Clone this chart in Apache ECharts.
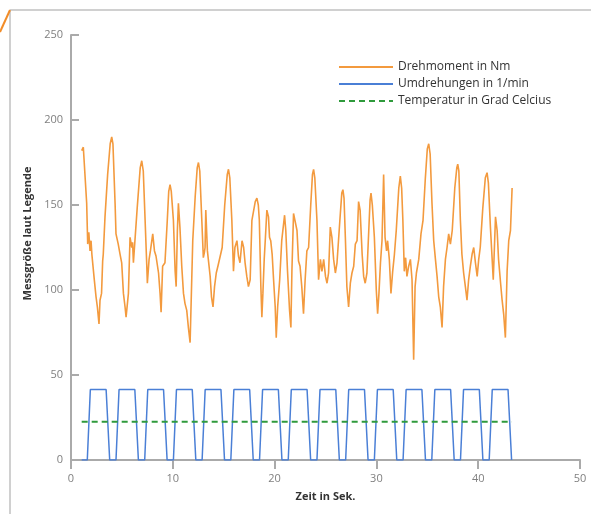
<!DOCTYPE html>
<html>
<head>
<meta charset="utf-8">
<script src="https://cdn.jsdelivr.net/npm/echarts@6/dist/echarts.min.js"></script>
<style>html,body{margin:0;padding:0;background:#fff;}#c{width:591px;height:514px;}</style>
</head>
<body>
<div id="c"></div>
<script>
// ---- data ----
const seriesNames = ['Drehmoment in Nm', 'Umdrehungen in 1/min', 'Temperatur in Grad Celcius'];
const xTicks = [0, 10, 20, 30, 40, 50];
const yTicks = [0, 50, 100, 150, 200, 250];

const torqueTime = [1.05,1.21,1.54,1.64,1.75,1.87,1.97,2.05,2.29,2.46,2.59,2.75,2.85,3.0,3.11,3.17,3.34,3.6,3.85,4.0,4.12,4.33,4.42,4.64,4.82,4.98,5.15,5.31,5.41,5.64,5.8,5.97,6.05,6.13,6.5,6.8,6.95,7.1,7.28,7.44,7.5,7.67,7.8,8.03,8.2,8.35,8.6,8.75,8.85,9.0,9.23,9.45,9.6,9.73,9.85,10.06,10.23,10.33,10.45,10.55,10.7,10.88,11.05,11.2,11.37,11.53,11.7,11.86,11.96,12.2,12.4,12.52,12.65,12.85,13.0,13.1,13.17,13.24,13.4,13.67,13.8,13.95,14.1,14.27,14.43,14.7,14.85,15.1,15.35,15.47,15.6,15.8,15.96,16.1,16.3,16.45,16.6,16.8,16.96,17.1,17.27,17.43,17.6,17.77,18.1,18.26,18.4,18.5,18.65,18.75,18.85,18.98,19.1,19.24,19.4,19.5,19.62,19.76,19.9,20.06,20.16,20.3,20.5,20.7,20.98,21.1,21.27,21.47,21.6,21.7,21.86,22.0,22.2,22.35,22.5,22.67,22.84,23.0,23.17,23.34,23.55,23.72,23.83,23.95,24.16,24.32,24.5,24.65,24.82,25.0,25.15,25.3,25.47,25.63,25.8,25.97,26.13,26.4,26.6,26.71,26.82,26.95,27.1,27.27,27.44,27.6,27.77,27.93,28.1,28.25,28.4,28.6,28.75,28.9,29.07,29.25,29.38,29.47,29.6,29.8,29.99,30.12,30.25,30.4,30.55,30.71,30.85,31.0,31.1,31.27,31.43,31.6,31.77,31.95,32.2,32.35,32.48,32.6,32.74,32.87,33.0,33.17,33.34,33.5,33.66,33.8,33.93,34.16,34.38,34.58,34.8,35.0,35.14,35.28,35.46,35.63,35.8,35.96,36.12,36.28,36.45,36.6,36.78,36.94,37.1,37.27,37.45,37.7,37.9,37.99,38.1,38.25,38.4,38.57,38.74,38.9,39.06,39.23,39.4,39.56,39.73,39.9,40.05,40.2,40.45,40.7,40.87,41.0,41.2,41.48,41.7,41.86,42.0,42.2,42.35,42.5,42.67,42.84,43.0,43.17,43.33];
const torque = [182,184,151,127,134,123,129,121,106,96,90,80,94,98,117,121,143,168,186,190,186,151,133,127,121,116,98,90,84,98,131,125,128,116,148,172,176,170,141,115,104,118,123,133,123,120,110,98,87,114,116,140,158,162,158,141,111,102,135,151,137,114,98,92,88,78,69,106,129,155,172,175,170,141,119,122,125,147,123,108,96,90,102,110,114,121,125,150,168,171,166,141,111,125,129,120,116,129,125,116,108,102,106,141,152,154,150,141,102,84,98,118,131,147,143,131,129,121,106,90,72,90,106,129,144,135,111,88,78,111,145,141,135,117,114,102,86,106,123,125,150,168,171,166,141,106,118,111,118,108,104,110,137,131,118,110,116,140,157,159,154,131,102,90,104,110,114,127,129,152,147,121,108,104,110,135,153,157,150,131,100,86,98,116,129,168,131,123,129,118,98,111,121,135,160,167,160,141,111,119,108,114,118,106,59,102,110,118,133,141,165,183,186,180,151,129,118,108,96,90,78,102,118,125,133,127,135,160,172,174,170,141,121,110,102,94,106,114,121,125,116,108,118,125,148,166,169,163,137,106,143,135,118,104,94,86,72,111,129,135,160];

const rpmTime = [1.05,1.60,1.90,3.45,3.80,4.42,4.72,6.27,6.62,7.24,7.54,9.09,9.44,10.06,10.36,11.91,12.26,12.88,13.18,14.73,15.08,15.70,16.00,17.55,17.90,18.52,18.82,20.37,20.72,21.34,21.64,23.19,23.54,24.16,24.46,26.01,26.36,26.98,27.28,28.83,29.18,29.80,30.10,31.65,32.00,32.62,32.92,34.47,34.82,35.44,35.74,37.29,37.64,38.26,38.56,40.11,40.46,41.08,41.38,42.93,43.28];
const rpm = [0,0,41.5,41.5,0,0,41.5,41.5,0,0,41.5,41.5,0,0,41.5,41.5,0,0,41.5,41.5,0,0,41.5,41.5,0,0,41.5,41.5,0,0,41.5,41.5,0,0,41.5,41.5,0,0,41.5,41.5,0,0,41.5,41.5,0,0,41.5,41.5,0,0,41.5,41.5,0,0,41.5,41.5,0,0,41.5,41.5,0];

const tempTime = [1.05, 10, 20, 30, 43.3];
const temp = [22.5, 22.5, 22.5, 22.5, 22.5];

// ---- chart ----
const zip = (a, b) => a.map((v, i) => [v, b[i]]);
const FONT = 'Open Sans';
const chart = echarts.init(document.getElementById('c'), null, {renderer: 'canvas'});
chart.setOption({
  backgroundColor: '#ffffff',
  animation: false,
  textStyle: {fontFamily: FONT},
  grid: {left: 71, right: 11, top: 35, bottom: 54, containLabel: false},
  legend: {
    orient: 'vertical', left: 333, top: 56,
    itemWidth: 54, itemHeight: 14, itemGap: 5,
    itemStyle: {opacity: 0},
    textStyle: {fontFamily: FONT, fontSize: 12, color: '#333'},
    data: seriesNames
  },
  xAxis: {
    type: 'value', min: xTicks[0], max: xTicks[xTicks.length - 1], interval: 10,
    name: 'Zeit in Sek.', nameLocation: 'middle', nameGap: 31,
    nameTextStyle: {fontFamily: FONT, fontSize: 11, fontWeight: 'bold', color: '#333'},
    axisLine: {show: true, lineStyle: {color: '#aaaaaa', width: 2}},
    axisTick: {show: true, inside: false, length: 9, lineStyle: {color: '#aaaaaa', width: 2}},
    axisLabel: {margin: 13, fontSize: 11, color: '#808080', fontFamily: FONT},
    splitLine: {show: false}
  },
  yAxis: {
    type: 'value', min: yTicks[0], max: yTicks[yTicks.length - 1], interval: 50,
    name: 'Messgröße laut Legende', nameLocation: 'middle', nameGap: 37,
    nameTextStyle: {fontFamily: FONT, fontSize: 11, fontWeight: 'bold', color: '#333', padding: [0, 0, 0, 28]},
    axisLine: {show: true, lineStyle: {color: '#aaaaaa', width: 2}},
    axisTick: {show: true, inside: true, length: 8, lineStyle: {color: '#aaaaaa', width: 2}},
    axisLabel: {margin: 8, fontSize: 11, color: '#808080', fontFamily: FONT},
    splitLine: {show: false}
  },
  series: [
    {
      name: seriesNames[0], type: 'line', data: zip(torqueTime, torque),
      symbol: 'none', lineStyle: {color: '#f39a3e', width: 1.6}, itemStyle: {color: '#f39a3e'}
    },
    {
      name: seriesNames[1], type: 'line', data: zip(rpmTime, rpm),
      symbol: 'none', lineStyle: {color: '#4a7fd6', width: 1.5}, itemStyle: {color: '#4a7fd6'}
    },
    {
      name: seriesNames[2], type: 'line', data: zip(tempTime, temp),
      symbol: 'none', lineStyle: {color: '#2f9a3c', width: 2, type: [6, 4]}, itemStyle: {color: '#2f9a3c'}
    }
  ],
  graphic: [
    {type: 'line', shape: {x1: 10, y1: 10, x2: 591, y2: 10}, style: {stroke: '#d0d0d0', lineWidth: 2}, silent: true},
    {type: 'line', shape: {x1: 10, y1: 10, x2: 10, y2: 514}, style: {stroke: '#d0d0d0', lineWidth: 2}, silent: true},
    {type: 'line', shape: {x1: 0, y1: 32, x2: 10, y2: 10}, style: {stroke: '#f28c28', lineWidth: 2}, silent: true}
  ]
});
</script>
</body>
</html>
